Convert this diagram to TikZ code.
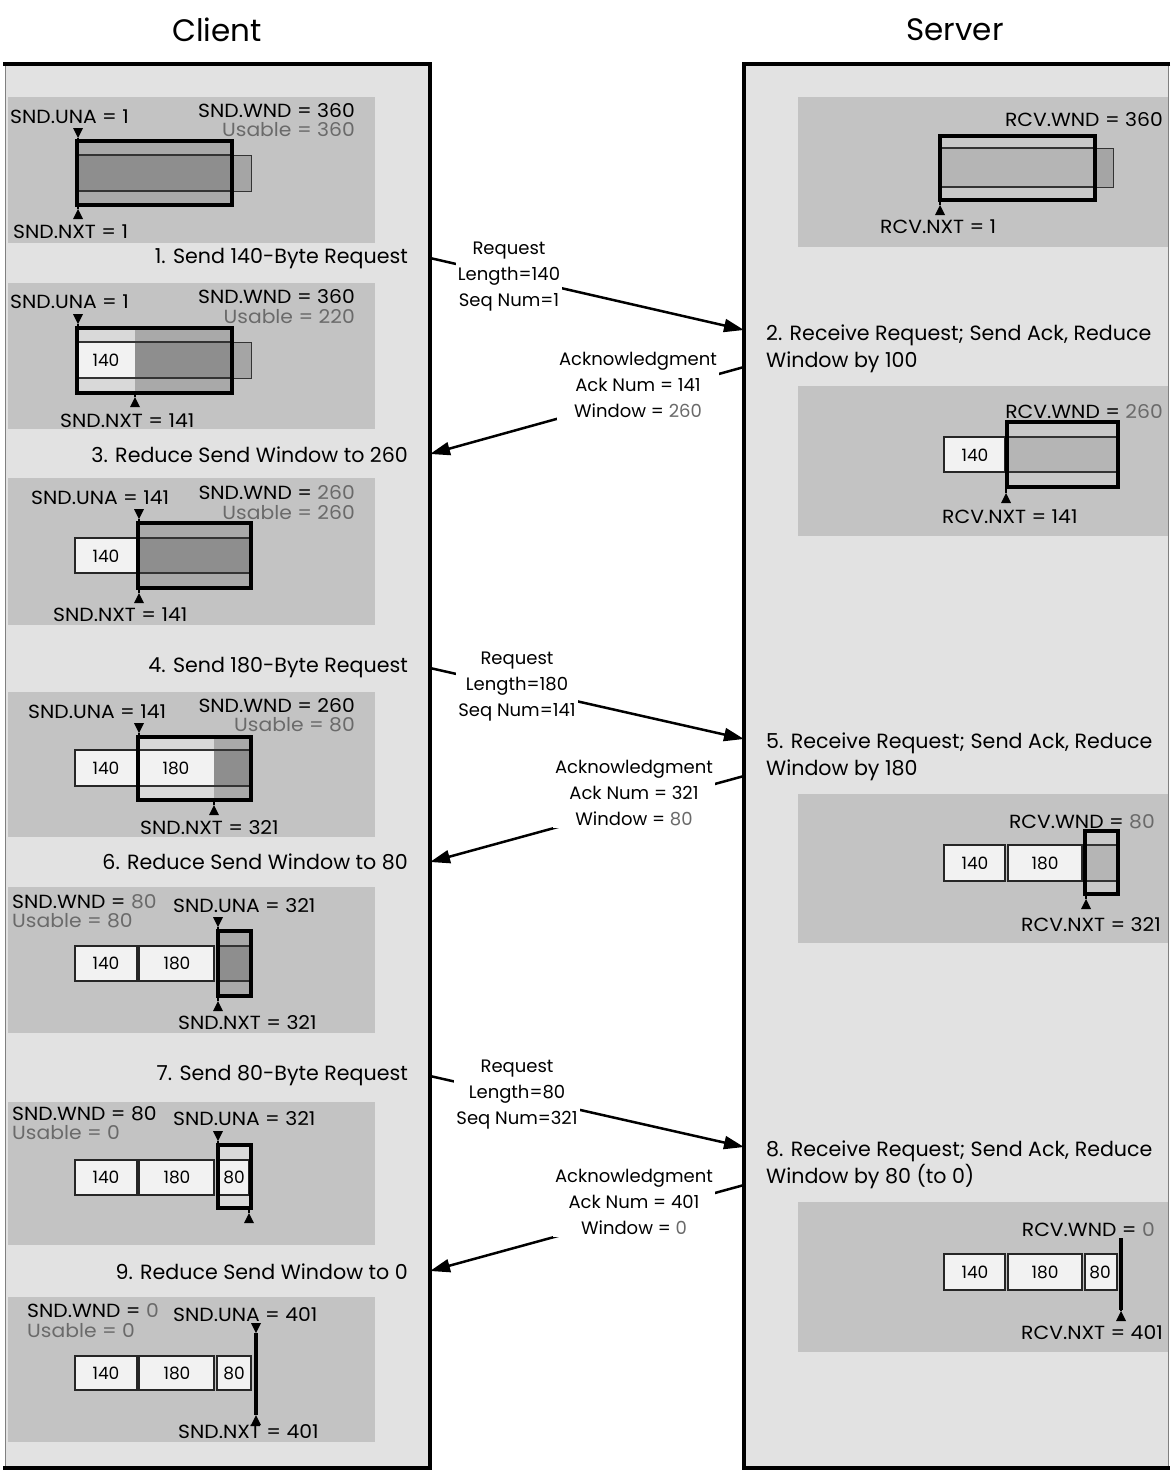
\documentclass[tikz,border=0pt]{standalone}
\usepackage{fontspec}
\setmainfont{Poppins}
\newfontfamily\labfont{Poppins}[FakeStretch=1.07]
\usetikzlibrary{arrows.meta}
\definecolor{outerbg}{HTML}{E2E2E2}
\definecolor{panelbg}{HTML}{C3C3C3}
\definecolor{usable}{HTML}{8E8E8E}
\definecolor{ustripe}{HTML}{A9A9A9}
\definecolor{sentbg}{HTML}{F2F2F2}
\definecolor{sstripe}{HTML}{D9D9D9}
\definecolor{tabfill}{HTML}{A5A5A5}
\definecolor{rcvbar}{HTML}{B5B5B5}
\definecolor{rcvstripe}{HTML}{C9C9C9}
\definecolor{dimtext}{HTML}{6A6A6A}
\newcommand\dmk[3]{\fill ({#1-5},{#2-10}) -- ({#1+5},{#2-10}) -- (#1,#2) -- cycle; \draw[line width=1.5pt] (#1,#2) -- (#1,#3);}
\newcommand\umk[3]{\fill ({#1-5},{#2+10}) -- ({#1+5},{#2+10}) -- (#1,#2) -- cycle; \draw[line width=1.5pt] (#1,#2) -- (#1,#3);}
\begin{document}
\begin{tikzpicture}[x=1pt,y=-1pt,
  lab/.style={font=\labfont\fontsize{19}{21}\selectfont, inner sep=0pt},
  steplab/.style={font=\fontsize{20.6}{27}\selectfont, inner sep=0pt, align=left},
  msglab/.style={font=\fontsize{18}{26}\selectfont, fill=white, inner sep=2pt, align=center},
  ttl/.style={font=\fontsize{31}{34}\selectfont},
  frame/.style={draw=black, line width=3.5pt},
  seg/.style={draw=black!85, line width=2pt, fill=sentbg},
  tab/.style={fill=tabfill, draw=black!80, line width=1pt},
  barline/.style={line width=1.2pt, draw=black!80},
  num/.style={font=\fontsize{17}{19}\selectfont, inner sep=0pt},
  msg/.style={line width=2.5pt, -{Triangle[length=20pt,width=13pt]}}]
\useasboundingbox (0,0) rectangle (1172,1472);

% titles
\node[ttl] (client) at (217,30) {Client};
\node[ttl] (server) at (955,30) {Server};

% outer boxes
\fill[outerbg] (5,64) rectangle (430,1468);
\draw[black!50, line width=1pt] (5,64) -- (5,1468);
\draw[line width=4pt] (3,64) -- (430,64) -- (430,1468) -- (3,1468);
\fill[outerbg] (744,64) rectangle (1168,1468);
\draw[black!50, line width=1pt] (1168,64) -- (1168,1468);
\draw[line width=4pt] (1170,64) -- (744,64) -- (744,1468) -- (1170,1468);

% ---------- client panel 1
\fill[panelbg] (8,97) rectangle (375,243);
\node[lab,anchor=west] (p1una) at (10,117) {SND.UNA = 1};
\node[lab,anchor=east] (p1wnd) at (355,111) {SND.WND = 360};
\node[lab,anchor=east,text=dimtext] (p1use) at (355,130) {Usable = 360};
\fill[ustripe] (77,141) rectangle (232,205);
\fill[usable] (77,155) rectangle (232,191);
\draw[barline] (77,155) -- (232,155) (77,191) -- (232,191);
\draw[tab] (232,155) rectangle (251,191);
\draw[frame] (77,141) rectangle (232,205);
\dmk{78}{138}{141}
\umk{78}{209}{205}
\node[lab,anchor=west] (p1nxt) at (13,232) {SND.NXT = 1};

% ---------- client panel 2
\fill[panelbg] (8,283) rectangle (375,429);
\node[lab,anchor=west] (p2una) at (10,302) {SND.UNA = 1};
\node[lab,anchor=east] (p2wnd) at (355,297) {SND.WND = 360};
\node[lab,anchor=east,text=dimtext] (p2use) at (355,317) {Usable = 220};
\fill[sstripe] (77,328) rectangle (135,393);
\fill[ustripe] (135,328) rectangle (232,393);
\fill[sentbg] (77,342) rectangle (135,378);
\fill[usable] (135,342) rectangle (232,378);
\draw[barline] (77,342) -- (232,342) (77,378) -- (232,378);
\node[num] (p2a) at (106,360) {140};
\draw[tab] (232,342) rectangle (251,378);
\draw[frame] (77,328) rectangle (232,393);
\dmk{78}{324}{328}
\umk{135}{397}{393}
\node[lab,anchor=west] (p2nxt) at (60,421) {SND.NXT = 141};

% ---------- client panel 3
\fill[panelbg] (8,478) rectangle (375,625);
\node[lab,anchor=west] (p3una) at (31,498) {SND.UNA = 141};
\node[lab,anchor=east] (p3wnd) at (355,493) {SND.WND = \textcolor{dimtext}{260}};
\node[lab,anchor=east,text=dimtext] (p3use) at (355,513) {Usable = 260};
\draw[seg] (75,538) rectangle (138,573);
\node[num] (p3a) at (106,556) {140};
\fill[ustripe] (138,523) rectangle (251,588);
\fill[usable] (138,538) rectangle (251,573);
\draw[barline] (138,538) -- (251,538) (138,573) -- (251,573);
\draw[frame] (138,523) rectangle (251,588);
\dmk{139}{519}{523}
\umk{139}{593}{588}
\node[lab,anchor=west] (p3nxt) at (53,615) {SND.NXT = 141};

% ---------- client panel 4
\fill[panelbg] (8,692) rectangle (375,837);
\node[lab,anchor=west] (p4una) at (28,712) {SND.UNA = 141};
\node[lab,anchor=east] (p4wnd) at (355,706) {SND.WND = 260};
\node[lab,anchor=east,text=dimtext] (p4use) at (355,725) {Usable = 80};
\draw[seg] (75,750) rectangle (138,786);
\node[num] (p4a) at (106,768) {140};
\fill[sstripe] (138,737) rectangle (214,800);
\fill[ustripe] (214,737) rectangle (251,800);
\fill[sentbg] (138,750) rectangle (214,786);
\fill[usable] (214,750) rectangle (251,786);
\draw[barline] (138,750) -- (251,750) (138,786) -- (251,786);
\node[num] (p4b) at (176,768) {180};
\draw[frame] (138,737) rectangle (251,800);
\dmk{139}{733}{737}
\umk{214}{805}{800}
\node[lab,anchor=west] (p4nxt) at (140,828) {SND.NXT = 321};

% ---------- client panel 5
\fill[panelbg] (8,887) rectangle (375,1033);
\node[lab,anchor=west] (p5wnd) at (12,902) {SND.WND = \textcolor{dimtext}{80}};
\node[lab,anchor=west,text=dimtext] (p5use) at (12,921) {Usable = 80};
\node[lab,anchor=west] (p5una) at (173,906) {SND.UNA = 321};
\draw[seg] (75,946) rectangle (137,981);
\draw[seg] (139,946) rectangle (214,981);
\node[num] (p5a) at (106,963) {140};
\node[num] (p5b) at (177,963) {180};
\fill[ustripe] (218,931) rectangle (251,996);
\fill[usable] (218,946) rectangle (251,981);
\draw[barline] (218,946) -- (251,946) (218,981) -- (251,981);
\draw[frame] (218,931) rectangle (251,996);
\dmk{218}{927}{931}
\umk{218}{1001}{996}
\node[lab,anchor=west] (p5nxt) at (178,1023) {SND.NXT = 321};

% ---------- client panel 6
\fill[panelbg] (8,1102) rectangle (375,1245);
\node[lab,anchor=west] (p6wnd) at (12,1114) {SND.WND = 80};
\node[lab,anchor=west,text=dimtext] (p6use) at (12,1133) {Usable = 0};
\node[lab,anchor=west] (p6una) at (173,1119) {SND.UNA = 321};
\draw[seg] (75,1160) rectangle (137,1195);
\draw[seg] (139,1160) rectangle (214,1195);
\node[num] (p6a) at (106,1177) {140};
\node[num] (p6b) at (177,1177) {180};
\fill[sstripe] (218,1145) rectangle (251,1208);
\draw[seg] (218,1160) rectangle (249,1195);
\node[num] (p6c) at (234,1177) {80};
\draw[frame] (218,1145) rectangle (251,1208);
\dmk{218}{1141}{1145}
\umk{249}{1213}{1210}

% ---------- client panel 7
\fill[panelbg] (8,1297) rectangle (375,1442);
\node[lab,anchor=west] (p7wnd) at (27,1311) {SND.WND = \textcolor{dimtext}{0}};
\node[lab,anchor=west,text=dimtext] (p7use) at (27,1331) {Usable = 0};
\node[lab,anchor=west] (p7una) at (173,1315) {SND.UNA = 401};
\draw[seg] (75,1356) rectangle (137,1390);
\draw[seg] (139,1356) rectangle (214,1390);
\draw[seg] (217,1356) rectangle (251,1390);
\node[num] (p7a) at (106,1373) {140};
\node[num] (p7b) at (177,1373) {180};
\node[num] (p7c) at (234,1373) {80};
\draw[line width=4pt] (256,1333) -- (256,1415);
\dmk{256}{1333}{1336}
\umk{256}{1415}{1412}
\node[lab,anchor=west] (p7nxt) at (178,1432) {SND.NXT = 401};

% ---------- server panel 1
\fill[panelbg] (798,97) rectangle (1168,247);
\node[lab,anchor=east] (s1wnd) at (1163,120) {RCV.WND = 360};
\fill[rcvstripe] (940,136) rectangle (1095,200);
\fill[rcvbar] (940,148) rectangle (1095,187);
\draw[barline] (940,148) -- (1095,148) (940,187) -- (1095,187);
\draw[tab] (1095,148) rectangle (1113,187);
\draw[frame] (940,136) rectangle (1095,200);
\umk{940}{205}{200}
\node[lab,anchor=west] (s1nxt) at (880,227) {RCV.NXT = 1};

% ---------- server panel 2
\fill[panelbg] (798,386) rectangle (1168,536);
\node[lab,anchor=east] (s2wnd) at (1163,412) {RCV.WND = \textcolor{dimtext}{260}};
\draw[seg] (944,437) rectangle (1005,472);
\node[num] (s2a) at (975,455) {140};
\fill[rcvstripe] (1007,422) rectangle (1118,487);
\fill[rcvbar] (1007,437) rectangle (1118,472);
\draw[barline] (1007,437) -- (1118,437) (1007,472) -- (1118,472);
\draw[frame] (1007,422) rectangle (1118,487);
\umk{1006}{493}{487}
\node[lab,anchor=west] (s2nxt) at (942,517) {RCV.NXT = 141};

% ---------- server panel 3
\fill[panelbg] (798,794) rectangle (1168,943);
\node[lab,anchor=east] (s3wnd) at (1155,822) {RCV.WND = \textcolor{dimtext}{80}};
\draw[seg] (944,845) rectangle (1005,881);
\draw[seg] (1008,845) rectangle (1082,881);
\node[num] (s3a) at (975,863) {140};
\node[num] (s3b) at (1045,863) {180};
\fill[rcvstripe] (1085,831) rectangle (1118,894);
\fill[rcvbar] (1085,845) rectangle (1118,881);
\draw[barline] (1085,845) -- (1118,845) (1085,881) -- (1118,881);
\draw[frame] (1085,831) rectangle (1118,894);
\umk{1086}{899}{894}
\node[lab,anchor=west] (s3nxt) at (1021,925) {RCV.NXT = 321};

% ---------- server panel 4
\fill[panelbg] (798,1202) rectangle (1168,1352);
\node[lab,anchor=east] (s4wnd) at (1155,1230) {RCV.WND = \textcolor{dimtext}{0}};
\draw[seg] (944,1254) rectangle (1005,1290);
\draw[seg] (1008,1254) rectangle (1082,1290);
\draw[seg] (1085,1254) rectangle (1117,1290);
\node[num] (s4a) at (975,1272) {140};
\node[num] (s4b) at (1045,1272) {180};
\node[num] (s4c) at (1100,1272) {80};
\draw[line width=4pt] (1121,1238) -- (1121,1310);
\umk{1121}{1311}{1308}
\node[lab,anchor=west] (s4nxt) at (1021,1333) {RCV.NXT = 401};

% ---------- step labels
\node[steplab,anchor=east] (st1) at (408,259) {1. Send 140-Byte Request};
\node[steplab,anchor=east] (st3) at (408,455) {3. Reduce Send Window to 260};
\node[steplab,anchor=east] (st4) at (408,668) {4. Send 180-Byte Request};
\node[steplab,anchor=east] (st6) at (408,862) {6. Reduce Send Window to 80};
\node[steplab,anchor=east] (st7) at (408,1076) {7. Send 80-Byte Request};
\node[steplab,anchor=east] (st9) at (408,1272) {9. Reduce Send Window to 0};
\node[steplab,anchor=west] (st2) at (766,349) {2. Receive Request; Send Ack, Reduce\\Window by 100};
\node[steplab,anchor=west] (st5) at (766,757) {5. Receive Request; Send Ack, Reduce\\Window by 180};
\node[steplab,anchor=west] (st8) at (766,1165) {8. Receive Request; Send Ack, Reduce\\Window by 80 (to 0)};

% ---------- messages
\coordinate (c1) at (430,258);  \coordinate (s1) at (744,330);
\coordinate (s1a) at (744,367); \coordinate (c3) at (430,454);
\coordinate (c4) at (430,668);  \coordinate (s5) at (744,739);
\coordinate (s5a) at (744,776); \coordinate (c6) at (430,862);
\coordinate (c7) at (430,1076); \coordinate (s8) at (744,1147);
\coordinate (s8a) at (744,1185);\coordinate (c9) at (430,1271);
\draw[msg] (c1) -- (s1);
\draw[msg] (s1a) -- (c3);
\draw[msg] (c4) -- (s5);
\draw[msg] (s5a) -- (c6);
\draw[msg] (c7) -- (s8);
\draw[msg] (s8a) -- (c9);
\node[msglab] (m1) at (509,277) {Request\\Length=140\\Seq Num=1};
\node[msglab] (m2) at (638,385) {Acknowledgment\\Ack Num = 141\\Window = \textcolor{dimtext}{260}};
\node[msglab] (m3) at (517,687) {Request\\Length=180\\Seq Num=141};
\node[msglab] (m4) at (634,793) {Acknowledgment\\Ack Num = 321\\Window = \textcolor{dimtext}{80}};
\node[msglab] (m5) at (517,1095) {Request\\Length=80\\Seq Num=321};
\node[msglab] (m6) at (634,1202) {Acknowledgment\\Ack Num = 401\\Window = \textcolor{dimtext}{0}};
\end{tikzpicture}
\end{document}
